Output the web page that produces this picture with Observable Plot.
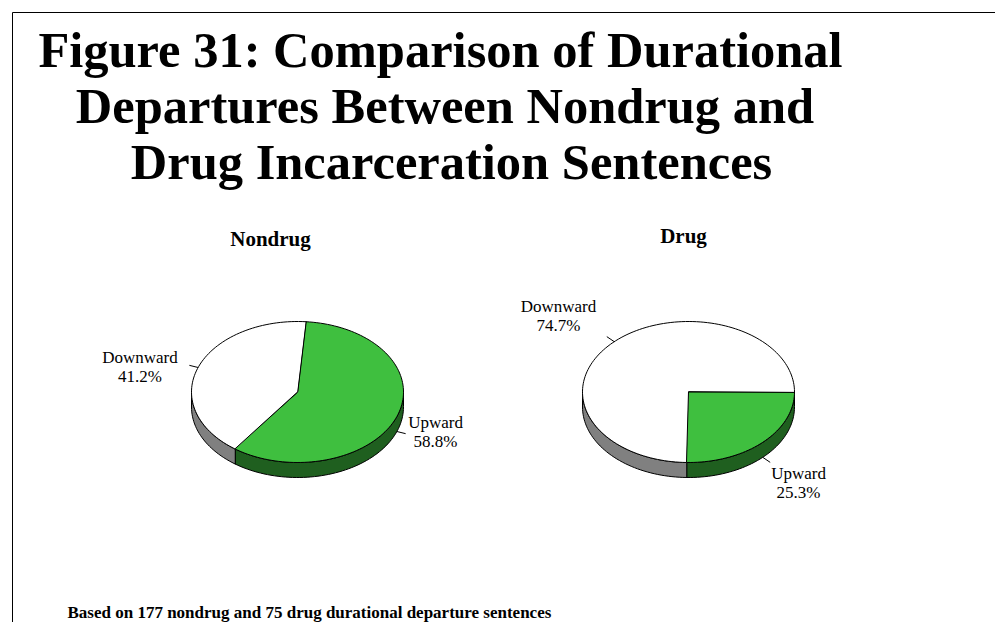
<!DOCTYPE html>
<html><head><meta charset="utf-8">
<script src="https://cdn.jsdelivr.net/npm/d3@7"></script>
<script src="https://cdn.jsdelivr.net/npm/@observablehq/plot@0.6"></script>
<style>html,body{margin:0;padding:0;background:#fff;} svg{display:block}</style>
</head><body><div id="chart"></div>
<script>
// ---- data ----
const titleLines = ["Figure 31: Comparison of Durational", "Departures Between Nondrug and", "Drug Incarceration Sentences"];
const pieNames = ["Nondrug", "Drug"];
const sliceNames = ["Upward", "Downward"];
const nondrugPct = [58.8, 41.2];
const drugPct = [25.3, 74.7];
const sentenceCounts = [177, 75];

// ---- layout ----
const W = 995, H = 622;
const RX = 106, RY = 70.5, DEPTH = 15;
const titleLayout = [[440, 66], [444.5, 122], [451, 178]];
const pieLayout = [
  {cx: 297, cy: 391.5, start: 4.5, titleX: 270, titleY: 245},
  {cx: 688, cy: 391.5, start: 90, titleX: 683, titleY: 242}
];
const labelLayout = [
  {Upward: [435, 427], Downward: [139.5, 362]},
  {Upward: [798, 478], Downward: [558, 311]}
];
const sliceFill = {Upward: "#3fbf3f", Downward: "#ffffff"};
const sideFill = {Upward: "#1f5f1f", Downward: "#808080"};
const FONT = "'Liberation Serif', 'Times New Roman', serif";

function pt(cx, cy, deg, dy = 0) {
  const r = deg * Math.PI / 180;
  return {x: cx + RX * Math.sin(r), y: cy - RY * Math.cos(r) + dy};
}
function arc(cx, cy, a0, a1, dy = 0) {
  const n = Math.max(2, Math.ceil(Math.abs(a1 - a0) / 2));
  const out = [];
  for (let i = 0; i <= n; i++) out.push(pt(cx, cy, a0 + (a1 - a0) * i / n, dy));
  return out;
}

const marks = [];
// border
marks.push(Plot.line([{x: 12, y: H}, {x: 12, y: 12}, {x: W, y: 12}], {x: "x", y: "y", stroke: "black", strokeWidth: 1}));
// title
marks.push(Plot.text(titleLines.map((t, i) => ({t, x: titleLayout[i][0], y: titleLayout[i][1]})),
  {x: "x", y: "y", text: "t", fontSize: 50.5, fontWeight: "bold", fontFamily: FONT, textAnchor: "middle", lineAnchor: "bottom", fill: "black"}));

pieNames.forEach((name, pi) => {
  const L = pieLayout[pi];
  const vals = pi === 0 ? nondrugPct : drugPct;
  let a = L.start;
  const slices = sliceNames.map((s, i) => {
    const a0 = a, a1 = a + vals[i] * 3.6; a = a1;
    return {s, a0, a1, v: vals[i]};
  });
  // side walls (front half only)
  slices.forEach(sl => {
    for (const off of [0, 360, -360]) {
      const s0 = Math.max(sl.a0, 90 + off), s1 = Math.min(sl.a1, 270 + off);
      if (s1 > s0) {
        const poly = [...arc(L.cx, L.cy, s0, s1), ...arc(L.cx, L.cy, s1, s0, DEPTH)];
        marks.push(Plot.line(poly, {x: "x", y: "y", curve: "linear-closed", fill: sideFill[sl.s], stroke: "black", strokeWidth: 1}));
      }
    }
  });
  // top faces
  slices.forEach(sl => {
    const poly = [{x: L.cx, y: L.cy}, ...arc(L.cx, L.cy, sl.a0, sl.a1)];
    marks.push(Plot.line(poly, {x: "x", y: "y", curve: "linear-closed", fill: sliceFill[sl.s], stroke: "black", strokeWidth: 1}));
  });
  // leaders + labels
  const leaders = slices.map(sl => {
    const m = ((sl.a0 + sl.a1) / 2) % 360;
    const front = m > 90 && m < 270;
    const p = pt(L.cx, L.cy, m, front ? DEPTH : 0);
    const r = m * Math.PI / 180;
    let dx = Math.sin(r), dy = -Math.cos(r) * RY / RX;
    const n = Math.hypot(dx, dy); dx /= n; dy /= n;
    return {x1: p.x, y1: p.y, x2: p.x + 9 * dx, y2: p.y + 9 * dy};
  });
  marks.push(Plot.link(leaders, {x1: "x1", y1: "y1", x2: "x2", y2: "y2", stroke: "black", strokeWidth: 1}));
  const labels = [];
  slices.forEach(sl => {
    const [lx, ly] = labelLayout[pi][sl.s];
    labels.push({x: lx, y: ly, t: sl.s});
    labels.push({x: lx, y: ly + 19, t: sl.v.toFixed(1) + "%"});
  });
  marks.push(Plot.text(labels, {x: "x", y: "y", text: "t", fontSize: 17, fontFamily: FONT, textAnchor: "middle", lineAnchor: "bottom", fill: "black"}));
  // pie title
  marks.push(Plot.text([name], {x: () => L.titleX, y: () => L.titleY, text: d => d, fontSize: 21, fontWeight: "bold", fontFamily: FONT, textAnchor: "middle", lineAnchor: "bottom", fill: "black"}));
});

// footnote
marks.push(Plot.text([`Based on ${sentenceCounts[0]} nondrug and ${sentenceCounts[1]} drug durational departure sentences`],
  {x: () => 67, y: () => 617, text: d => d, fontSize: 17, fontWeight: "bold", fontFamily: FONT, textAnchor: "start", lineAnchor: "bottom", fill: "black"}));

const chart = Plot.plot({
  width: W, height: H,
  margin: 0,
  x: {type: "linear", domain: [0, W], range: [0, W], axis: null},
  y: {type: "linear", domain: [0, H], range: [0, H], axis: null},
  style: {fontFamily: FONT, background: "white", color: "black", overflow: "visible"},
  marks
});
document.getElementById("chart").appendChild(chart);
</script>
</body></html>
